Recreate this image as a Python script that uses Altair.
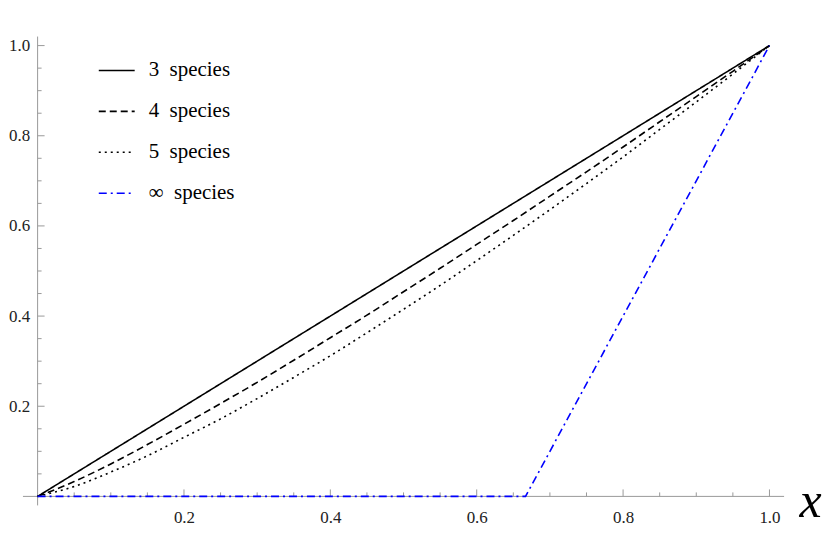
import altair as alt
import pandas as pd

# ---- data ----
x_vals = [0.00, 0.05, 0.10, 0.15, 0.20, 0.25, 0.30, 0.35, 0.40, 0.45, 0.50,
          0.55, 0.60, 0.65, 0.70, 0.75, 0.80, 0.85, 0.90, 0.95, 1.00]
y_3 = [0.00, 0.05, 0.10, 0.15, 0.20, 0.25, 0.30, 0.35, 0.40, 0.45, 0.50,
       0.55, 0.60, 0.65, 0.70, 0.75, 0.80, 0.85, 0.90, 0.95, 1.00]
y_4 = [0.000, 0.033, 0.072, 0.115, 0.160, 0.206, 0.253, 0.302, 0.352, 0.402, 0.454,
       0.506, 0.559, 0.612, 0.666, 0.720, 0.775, 0.831, 0.887, 0.943, 1.000]
y_5 = [0.000, 0.022, 0.054, 0.090, 0.131, 0.172, 0.217, 0.264, 0.312, 0.363, 0.415,
       0.468, 0.523, 0.579, 0.636, 0.694, 0.753, 0.814, 0.875, 0.937, 1.000]
x_inf = [0.0, 0.6667, 1.0]
y_inf = [0.0, 0.0, 1.0]

series_names = ["3\u2002species", "4\u2002species", "5\u2002species", "\u221e\u2002species"]
series_colors = ["black", "black", "black", "#0000ff"]
series_dashes = [[1, 0], [7, 4], [2, 4], [8, 4, 2, 4]]

x_major = [0.2, 0.4, 0.6, 0.8, 1.0]
x_minor = [0.05, 0.10, 0.15, 0.25, 0.30, 0.35, 0.45, 0.50, 0.55,
           0.65, 0.70, 0.75, 0.85, 0.90, 0.95]
y_major = [0.2, 0.4, 0.6, 0.8, 1.0]
y_minor = [0.05, 0.10, 0.15, 0.25, 0.30, 0.35, 0.45, 0.50, 0.55,
           0.65, 0.70, 0.75, 0.85, 0.90, 0.95]

# ---- tables ----
rows = []
for name, ys in zip(series_names[:3], [y_3, y_4, y_5]):
    for xv, yv in zip(x_vals, ys):
        rows.append({"x": xv, "y": yv, "series": name})
curves = pd.DataFrame(rows)
inf_df = pd.DataFrame({"x": x_inf, "y": y_inf, "series": series_names[3]})

W, H = 763, 470
AXIS_GRAY = "#9a9a9a"
FONT = "Liberation Serif"

xscale = alt.Scale(domain=[-0.02, 1.02], nice=False, zero=False)
yscale = alt.Scale(domain=[-0.02, 1.02], nice=False, zero=False)
color_scale = alt.Scale(domain=series_names, range=series_colors)
dash_scale = alt.Scale(domain=series_names, range=series_dashes)

legend = alt.Legend(
    orient="none", legendX=75, legendY=15, title=None,
    symbolType="stroke", symbolSize=1296, symbolStrokeWidth=1.6,
    labelOffset=13, rowPadding=12, padding=0,
    labelFont=FONT, labelFontSize=21, labelColor="black",
)

x_axis = alt.Axis(
    values=x_major, format=".1f", domain=False, ticks=False, grid=False,
    labelPadding=4, labelFont=FONT, labelFontSize=17, labelColor="#222222",
    title="x", titleX=789, titleY=-4, titleFont=FONT,
    titleFontStyle="italic", titleFontWeight="normal", titleFontSize=50, titleColor="black",
    titleAlign="center", titleBaseline="middle",
)
y_axis = alt.Axis(
    values=y_major, format=".1f", domain=False, ticks=False, grid=False,
    labelPadding=8, offset=-14.67, title=None,
    labelFont=FONT, labelFontSize=17, labelColor="#222222",
)

lines = alt.Chart(curves).mark_line(strokeWidth=1.6, interpolate="monotone").encode(
    x=alt.X("x:Q", scale=xscale, axis=x_axis),
    y=alt.Y("y:Q", scale=yscale, axis=y_axis),
    color=alt.Color("series:N", scale=color_scale, legend=legend),
    strokeDash=alt.StrokeDash("series:N", scale=dash_scale, legend=legend),
)

# axis lines
x_line = alt.Chart(pd.DataFrame({"v": [0.0]})).mark_rule(color=AXIS_GRAY, strokeWidth=1).encode(
    y=alt.Y("v:Q", scale=yscale, axis=y_axis), x=alt.value(0), x2=alt.value(W))
y_line = alt.Chart(pd.DataFrame({"v": [0.0]})).mark_rule(color=AXIS_GRAY, strokeWidth=1).encode(
    x=alt.X("v:Q", scale=xscale, axis=x_axis), y=alt.value(0), y2=alt.value(H))

def x_ticks(vals, size):
    return alt.Chart(pd.DataFrame({"t": vals, "z": 0.0})).mark_rule(
        color=AXIS_GRAY, strokeWidth=1, y2Offset=-size).encode(
        x=alt.X("t:Q", scale=xscale, axis=x_axis),
        y=alt.Y("z:Q", scale=yscale, axis=y_axis), y2="z:Q")

def y_ticks(vals, size):
    return alt.Chart(pd.DataFrame({"t": vals, "z": 0.0})).mark_rule(
        color=AXIS_GRAY, strokeWidth=1, x2Offset=size).encode(
        y=alt.Y("t:Q", scale=yscale, axis=y_axis),
        x=alt.X("z:Q", scale=xscale, axis=x_axis), x2="z:Q")

inf_line = alt.Chart(inf_df).mark_line(strokeWidth=1.6).encode(
    x=alt.X("x:Q", scale=xscale, axis=x_axis),
    y=alt.Y("y:Q", scale=yscale, axis=y_axis),
    color=alt.Color("series:N", scale=color_scale, legend=legend),
    strokeDash=alt.StrokeDash("series:N", scale=dash_scale, legend=legend),
)

chart = alt.layer(
    x_line, y_line,
    x_ticks(x_major, 7), x_ticks(x_minor, 4),
    y_ticks(y_major, 7), y_ticks(y_minor, 4),
    lines, inf_line,
).properties(
    width=W, height=H,
    padding={"left": 0, "top": 27, "right": 0, "bottom": 5},
).configure(
    background="white",
    view=alt.ViewConfig(stroke=None),
)

chart.save("out.html", embed_options={"renderer": "svg", "actions": False})
